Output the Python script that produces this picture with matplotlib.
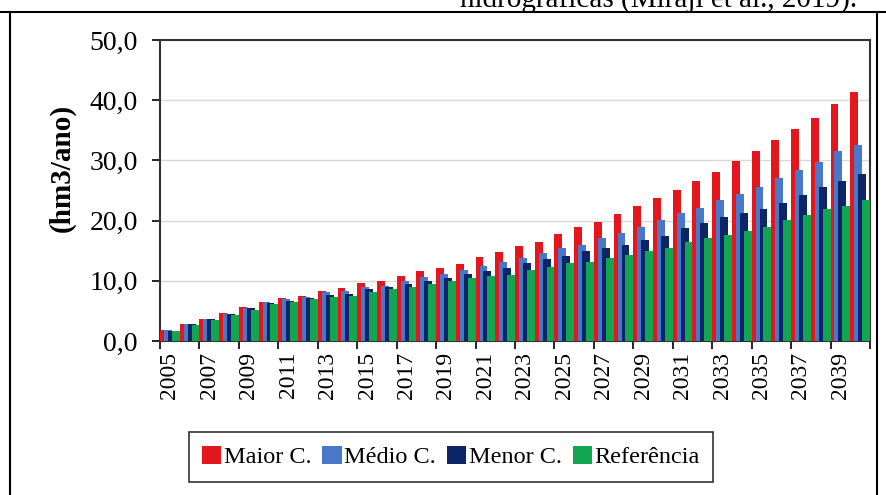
import numpy as np
import matplotlib
matplotlib.use('Agg')
import matplotlib.pyplot as plt
from matplotlib.lines import Line2D
from matplotlib.ticker import FuncFormatter

plt.rcParams['font.family'] = ['Liberation Serif', 'DejaVu Serif']

anos = list(range(2005, 2041))
maior = [1.8, 2.8, 3.6, 4.6, 5.6, 6.5, 7.2, 7.5, 8.3, 8.8, 9.6, 9.9, 10.8, 11.6,
         12.1, 12.8, 13.9, 14.8, 15.7, 16.4, 17.8, 18.9, 19.8, 21.1, 22.4, 23.7,
         25.1, 26.5, 28.1, 29.9, 31.6, 33.4, 35.2, 37.1, 39.4, 41.4]
medio = [1.8, 2.8, 3.6, 4.5, 5.5, 6.4, 6.9, 7.3, 8.2, 8.3, 9.0, 9.2, 10.0, 10.6,
         11.2, 11.8, 12.4, 13.1, 13.8, 14.7, 15.4, 16.0, 17.1, 17.9, 19.0, 20.1,
         21.2, 22.1, 23.4, 24.5, 25.6, 27.0, 28.4, 29.8, 31.5, 32.6]
menor = [1.7, 2.8, 3.6, 4.5, 5.4, 6.3, 6.7, 7.1, 7.7, 7.8, 8.6, 9.0, 9.4, 10.0,
         10.5, 11.2, 11.6, 12.2, 12.9, 13.6, 14.2, 14.9, 15.4, 16.0, 16.8, 17.5,
         18.7, 19.6, 20.6, 21.3, 22.0, 23.0, 24.3, 25.5, 26.5, 27.7]
referencia = [1.7, 2.7, 3.5, 4.3, 5.1, 6.2, 6.5, 6.9, 7.3, 7.4, 8.2, 8.6, 9.0, 9.4,
              9.9, 10.5, 10.8, 11.0, 11.8, 12.3, 12.9, 13.2, 13.8, 14.3, 14.9, 15.4,
              16.4, 17.1, 17.6, 18.2, 19.0, 20.1, 20.9, 22.0, 22.4, 23.4]

series = [('Maior C.', maior, '#E5161C'),
          ('Médio C.', medio, '#4A78C8'),
          ('Menor C.', menor, '#0B2566'),
          ('Referência', referencia, '#12A650')]

fig = plt.figure(figsize=(8.86, 4.95), dpi=100)
ax = fig.add_axes([160/886, 1 - 341/495, (870 - 160)/886, (341 - 40)/495])

x = np.arange(len(anos))
w = 0.4
offsets = [-0.3, -0.1, 0.1, 0.3]
for i, (nome, vals, cor) in enumerate(series):
    ax.bar(x + offsets[i], vals, width=w, color=cor, label=nome,
           zorder=3 + i, linewidth=0)

ax.set_xlim(-0.5, len(anos) - 0.5)
ax.set_ylim(0, 50)
ax.set_yticks(np.arange(0, 51, 10))
ax.yaxis.set_major_formatter(FuncFormatter(lambda v, p: f'{v:.1f}'.replace('.', ',')))
ax.grid(axis='y', color='#d9d9d9', linewidth=1, zorder=0)

ax.set_xticks(x[::2])
ax.set_xticklabels([str(a) for a in anos[::2]], rotation=90)
ax.set_xticks(np.arange(-0.5, len(anos), 2), minor=True)
ax.tick_params(axis='x', which='major', length=0, labelsize=17, pad=8)
ax.tick_params(axis='x', which='minor', length=6, width=1.2, direction='out')
ax.tick_params(axis='y', length=6, width=1.2, labelsize=20, pad=10)

for s in ax.spines.values():
    s.set_linewidth(1.5)
    s.set_color('#333333')

fig.text(62/886, 1 - 168/495, '(hm3/ano)', rotation=90, fontsize=21,
         fontweight='bold', ha='center', va='center')

leg = ax.legend(loc='center', bbox_to_anchor=(451/886, 1 - 457/495),
                bbox_transform=fig.transFigure, ncol=4, fontsize=17.5, frameon=True,
                fancybox=False, edgecolor='black', handlelength=0.8,
                handleheight=0.8, handletextpad=0.1, columnspacing=0.45,
                borderpad=0.55, borderaxespad=0)
leg.get_frame().set_linewidth(1.2)

# texto do documento e moldura
fig.text(857/886, 1 - 7/495, 'hidrográficas (Miraji et al., 2019).', fontsize=21,
         ha='right', va='baseline')
fig.add_artist(Line2D([0, 1], [1 - 12/495, 1 - 12/495], color='black', lw=1.5,
                      transform=fig.transFigure))
fig.add_artist(Line2D([10/886, 10/886], [0, 1 - 12/495], color='black', lw=1.5,
                      transform=fig.transFigure))
fig.add_artist(Line2D([877/886, 877/886], [0, 1 - 12/495], color='black', lw=1.5,
                      transform=fig.transFigure))

fig.savefig('out.png', dpi=100)
